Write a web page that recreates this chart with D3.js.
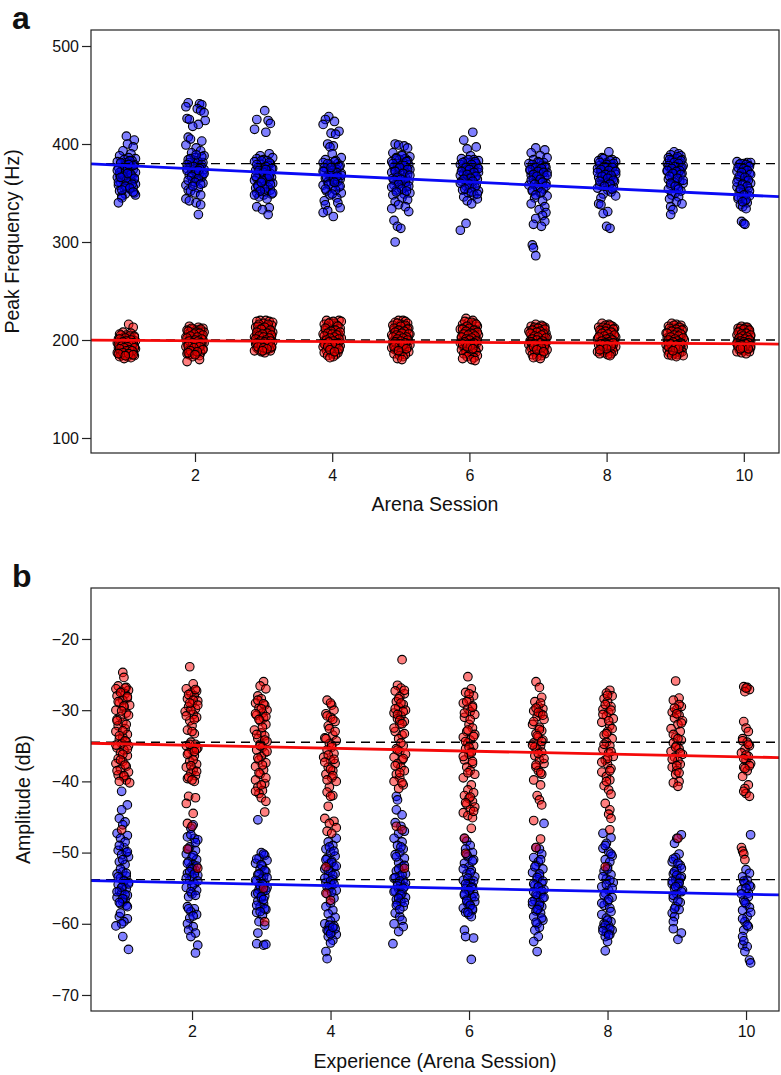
<!DOCTYPE html>
<html><head><meta charset="utf-8">
<script src="https://cdn.jsdelivr.net/npm/d3@7"></script>
<style>body{margin:0;background:#fff}svg{display:block}text{font-family:"Liberation Sans",Arial,Helvetica,sans-serif;fill:#111}</style>
</head><body><svg id="c" width="781" height="1075"></svg>
<script>
// ---------- DATA ----------
const sessions = [1,2,3,4,5,6,7,8,9,10];
const ticksX = [2,4,6,8,10];
const ticksFreq = [100,200,300,400,500];
const ticksAmp = [-20,-30,-40,-50,-60,-70];
// each string: one session; tokens "jitter:value" (jitter in small units of session width)
const freqBlue = [
"0:408 7:404 1:400 6:397 -3:393 4:390 -6:388 2:386 8:385 -2:384 5:383 -8:382 0:381 3:380 -5:380 7:379 -1:378 4:377 -7:376 2:375 6:374 -4:373 0:372 8:371 -2:370 3:369 -6:368 5:367 -8:366 1:365 7:364 -3:363 4:362 -5:361 2:360 8:359 -7:358 0:357 6:356 -2:355 3:354 -6:352 7:350 -1:349 8:348 -4:347 -4:345 -7:340 3:383 -5:381 6:378 -2:376 1:374 -6:371 4:369 -3:367 7:365 0:363 -7:361 5:359 -1:357 3:355 -4:353 6:351 1:370 -8:373 2:379 -5:366",
"-6:442 4:441 6:440 -8:438 2:436 5:434 8:432 -7:426 -5:425 9:424 3:420 -2:418 -6:407 -4:405 6:403 -8:399 1:396 5:393 -3:391 8:388 0:386 -6:384 3:382 7:381 -1:380 -4:378 5:377 2:376 -7:375 8:374 0:372 -3:371 4:370 -5:368 6:366 1:364 -2:362 7:360 -8:358 3:355 -6:353 -4:352 0:350 5:348 -8:344 -5:342 1:340 5:338 3:328 2:383 -5:381 6:379 -1:377 4:375 -7:373 1:371 7:369 -3:367 3:365 -6:363 0:361 5:359 -2:357 -4:385 6:387 1:389 -7:379 3:373 8:370",
"1:434 -6:425 4:424 6:421 -8:415 2:412 5:390 -3:388 8:386 -6:385 0:384 3:383 -8:382 6:380 -2:379 4:378 -5:376 8:375 1:374 -7:373 3:372 -1:371 6:370 -4:369 0:368 7:366 -6:365 2:364 -8:363 5:362 -2:361 8:360 -5:358 1:357 4:356 -7:355 6:353 -3:352 2:351 -6:350 7:349 0:348 -4:346 3:344 -6:336 5:335 -1:333 4:328 -2:383 5:381 -6:379 2:377 7:375 -4:373 0:371 4:369 -7:367 3:365 -1:363 6:359 -5:357 1:354 -3:352 8:350 -8:348 2:374 5:367 -2:361",
"-3:428 -6:425 2:423 -8:420 6:413 -1:411 3:410 -4:400 1:398 -2:397 0:390 8:386 -6:384 3:383 -8:381 5:380 -2:379 7:378 0:377 -5:375 4:374 -7:372 2:371 8:370 -3:369 5:367 -1:366 -6:365 7:364 1:362 -4:361 3:360 -8:358 6:356 0:355 -5:352 8:350 -2:348 4:345 -7:342 5:340 -6:338 7:335 -4:332 -8:330 1:326 2:382 -4:380 6:377 -7:376 0:373 4:371 -2:370 8:368 -5:366 1:364 5:362 -3:359 7:357 -6:354 3:353 0:349 -1:376 -8:372 4:367 2:361",
"-5:400 -2:399 3:398 6:396 -7:391 1:389 8:387 -4:386 4:385 -1:384 6:383 -8:382 2:381 -3:380 7:379 0:378 -6:377 5:376 -2:375 8:374 -5:373 3:372 -8:371 1:370 6:369 -3:368 4:366 -7:365 2:364 7:362 -1:360 -6:358 5:356 0:355 -4:353 8:350 3:349 -7:348 1:345 6:343 -5:341 -2:338 4:336 -8:334 7:331 -6:322 -3:316 0:314 -5:300 1:388 -4:385 5:382 -7:380 3:378 -1:376 6:374 -5:372 2:370 8:368 -3:366 0:364 -6:363 4:361 -2:359 7:357 -8:356 1:354 5:352 -4:351",
"3:412 -5:404 6:397 -2:395 1:388 -7:385 4:384 8:383 -4:382 0:381 6:380 -8:379 2:378 -3:377 7:376 -6:375 4:374 0:373 -2:372 8:371 -5:370 3:369 -8:368 5:367 1:366 -4:365 7:364 -1:363 -7:362 3:360 6:358 -3:357 0:355 -6:353 8:352 -1:350 4:348 -5:346 7:344 -2:342 2:339 -3:319 -8:312 -1:384 5:382 -6:381 2:379 -3:376 8:375 0:374 -7:372 4:371 -2:369 6:367 1:365 -5:364 3:362 -8:360 0:359 5:356 -4:354 2:351 7:349",
"-2:396 6:394 -6:391 2:388 8:386 -4:384 0:382 5:381 -8:380 3:378 -1:377 7:376 -5:375 1:374 -7:373 4:372 8:371 -3:370 2:369 -6:368 6:366 0:365 -4:364 3:362 7:360 -8:358 -1:356 5:354 -5:352 2:350 8:347 -3:345 4:342 -6:339 6:336 1:333 7:330 4:327 -2:324 6:321 -4:318 3:316 -5:297 -4:294 -2:286 1:381 -5:379 6:377 -2:376 3:375 -7:374 0:372 5:371 -4:369 8:368 -1:367 2:364 -6:363 4:361 -3:359 7:357 0:355 -5:353 3:351 -2:348",
"2:392 -4:386 5:384 -7:383 8:382 0:381 -2:380 4:379 -6:378 6:377 1:376 -8:375 3:374 7:373 -3:372 -5:371 2:370 8:369 -1:368 4:367 -7:366 5:365 0:364 -4:363 7:362 -2:361 3:360 -6:358 6:356 -8:355 1:353 4:351 -3:349 8:347 -5:345 -7:339 -5:338 1:331 -3:329 0:316 3:314 -3:385 3:383 -6:381 6:380 0:379 -2:377 5:376 -5:374 2:373 8:372 -8:371 -1:369 4:368 -4:367 1:365 6:363 -6:362 3:359 -2:357 5:354",
"-1:392 3:390 -4:389 5:388 -6:386 1:385 6:384 -3:383 0:382 4:381 -7:380 2:379 7:378 -2:377 -5:376 5:375 0:374 -7:372 3:371 6:370 -3:368 1:366 -6:364 4:362 -1:361 7:360 -4:358 2:356 -6:354 5:352 0:350 -3:348 3:346 -5:344 1:341 6:339 -4:336 -2:333 -4:328 2:387 -5:384 5:383 -1:381 3:380 -6:378 0:377 6:376 -3:375 4:373 -7:373 1:372 -2:370 5:369 -5:367 2:365 7:363 -4:360 0:357 3:354",
"-6:382 3:381 6:381 0:380 -4:379 4:378 -2:376 2:374 -6:372 5:370 0:368 -3:366 3:365 -5:364 1:362 6:360 -2:358 -6:356 4:355 0:353 -4:351 2:349 5:347 -2:345 -5:344 1:342 3:340 -3:338 -1:336 2:334 -2:321 0:319 1:318 -3:380 2:379 5:377 -5:376 0:375 3:373 -2:371 6:369 -4:367 1:366 4:363 -6:361 -1:359 3:357 -3:354 5:352 0:348 -5:346 2:343 -1:341"
];
const freqRed = [
"2:216 6:213 -3:208 4:207 -6:206 0:205 7:204 -2:203 3:202 -7:201 5:201 -4:200 1:200 8:199 -1:199 -5:198 4:198 -8:197 2:197 6:196 -3:196 0:195 -6:195 7:194 3:194 -2:193 5:193 -7:192 1:192 -4:191 8:191 -1:190 4:190 -6:189 2:189 6:188 -3:188 0:187 -8:187 5:186 -5:186 3:185 -2:185 7:184 -4:184 1:183 -6:183 4:182 -2:181 -5:205 3:204 7:203 -1:202 -6:201 4:200 0:199 -3:198 6:197 -7:196 2:196 5:195 -4:194 1:193 -2:192 7:192 -6:191 3:190 0:189 5:189 -3:187 -7:186 2:186 6:185 -1:184",
"-5:214 3:213 7:212 -2:211 -7:210 1:210 5:209 -4:208 8:208 0:207 -6:206 4:206 2:205 -3:204 6:204 -8:203 0:203 -1:202 5:202 3:201 -5:200 7:200 -2:199 1:199 -7:198 4:198 8:197 -4:197 0:196 6:196 -6:195 2:195 -2:194 5:193 -8:193 3:192 -4:191 7:191 0:190 -6:189 2:189 -3:188 5:187 -7:186 1:186 -5:185 4:184 -2:183 -7:178 4:180 -3:212 5:211 -6:209 1:208 4:207 -1:206 7:205 -4:204 2:203 -7:202 6:201 0:200 3:199 -5:199 -2:197 5:197 1:196 -6:194 4:193 -1:192 7:190 -4:189 2:188 -6:187 0:185",
"-3:220 2:220 -6:219 5:219 8:218 0:217 -4:216 7:215 3:214 -7:213 -1:212 5:211 -5:210 2:209 8:208 -3:207 0:206 6:206 -6:205 3:205 -2:204 7:204 -8:203 1:203 4:202 -4:202 0:201 6:200 -6:200 2:199 -2:198 8:198 -5:197 4:197 1:196 -7:196 6:195 -3:195 3:194 -1:193 7:192 -6:192 0:191 5:191 -4:190 2:190 -8:189 6:189 -2:188 1:187 4:216 -5:214 1:213 -2:211 6:210 -6:208 3:207 -1:206 7:205 -4:204 0:203 5:202 -7:201 2:200 -3:199 6:199 1:198 -6:197 4:196 -2:194 7:193 -5:193 0:192 3:191 -1:189",
"-5:220 6:220 8:219 -2:218 2:217 -7:216 4:215 -4:213 7:212 0:211 -6:210 3:209 -1:208 5:207 -8:206 1:205 6:205 -3:204 3:203 -5:202 8:202 0:201 -2:200 4:200 -7:199 2:199 6:198 -4:198 0:197 -1:196 5:196 -6:195 3:195 7:194 -3:194 1:193 -8:193 4:192 -2:191 6:190 -5:189 2:189 -1:188 -7:187 5:187 0:186 3:185 -4:184 1:183 -2:182 1:219 -3:217 5:214 -6:212 3:210 -1:209 7:208 -4:207 0:206 4:205 -7:204 2:203 -2:202 6:201 -5:200 1:199 -3:198 5:197 -7:196 3:196 0:195 -4:193 6:191 -2:190 2:188",
"-2:220 2:220 4:219 -5:218 6:217 0:216 -7:215 3:214 -3:213 7:212 1:211 -6:210 5:209 -1:208 -4:207 8:206 2:205 -8:205 4:204 -2:203 0:202 6:202 -5:201 3:200 -3:200 7:199 1:199 -7:198 5:198 -1:197 -4:196 2:196 8:195 -6:195 0:194 4:194 -2:193 6:192 -8:192 1:191 -5:190 3:190 -3:189 7:188 0:187 -6:186 4:185 -1:184 2:183 -3:181 1:180 -3:217 4:215 0:214 -6:212 6:211 -2:210 3:209 -5:208 1:207 7:206 -4:205 -1:204 5:203 -7:203 2:202 -3:201 6:200 0:199 -5:198 4:197 -1:196 2:195 -6:193 5:191 -2:189",
"-3:222 3:220 -1:218 5:217 -6:216 1:215 7:214 -4:213 3:212 -8:211 6:210 0:209 -2:208 4:207 -6:206 8:205 2:205 -4:204 0:203 5:203 -7:202 3:201 -2:200 7:200 1:199 -5:199 5:198 -1:197 -8:197 3:196 6:196 -3:195 0:195 -6:194 4:194 2:193 -4:192 8:192 -1:191 5:190 -7:190 1:189 -3:188 6:188 3:187 -5:186 0:185 7:184 -2:183 4:182 -6:181 2:180 5:179 -4:219 2:218 6:216 -2:214 0:212 -6:211 4:210 -3:209 7:208 1:207 -5:206 3:206 -1:205 5:204 -7:203 2:202 -3:201 0:200 6:199 -4:198 4:197 -6:196 1:194 -2:193 3:191",
"-2:216 3:215 -6:214 6:213 0:212 -4:211 4:210 -8:209 2:208 7:207 -3:206 -6:205 1:205 5:204 -1:203 8:203 -5:202 3:202 -3:201 0:200 6:200 -7:199 2:199 -2:198 4:198 -5:197 7:197 1:196 -1:196 -8:195 5:195 3:194 -4:194 0:193 6:193 -6:192 2:192 -2:191 8:190 -7:189 4:189 -3:188 1:187 6:186 -5:185 3:184 -1:183 -4:182 2:181 4:214 -3:213 0:212 6:211 -5:210 2:209 -1:208 -7:207 5:206 3:205 -3:204 0:203 7:202 -5:201 -1:200 4:199 -6:198 2:197 -3:196 6:195 0:194 -4:193 3:192 -1:190 5:188",
"-4:217 2:216 -1:215 5:214 -7:213 7:212 0:211 3:210 -5:209 -2:208 6:207 1:206 -6:205 4:204 -3:203 8:203 0:202 -8:201 2:201 5:200 -4:200 -1:199 7:199 3:198 -6:198 0:197 4:197 -2:196 -7:195 6:195 1:194 -4:194 3:193 8:193 -1:192 -5:191 5:191 0:190 -3:189 2:189 -8:188 6:188 -2:187 4:186 -6:186 1:185 3:184 3:215 -3:213 0:212 6:211 -6:210 -1:209 4:208 -4:207 1:206 7:205 -2:204 -7:203 3:202 0:201 5:200 -4:199 2:198 -1:197 6:197 -5:196 1:195 4:194 -3:193 0:191 -6:190",
"-3:217 1:216 5:215 -6:214 3:213 -1:212 7:211 -4:210 0:209 4:208 -8:207 2:206 -2:205 6:205 -5:204 0:203 3:202 -7:202 5:201 -1:200 8:200 -4:199 2:199 -6:198 4:198 0:197 -2:196 6:196 -8:195 1:195 -3:194 3:194 7:193 -5:192 -1:192 5:191 -7:190 2:190 -3:189 0:188 6:188 -5:187 4:187 -1:186 -6:185 2:185 7:184 -3:184 1:183 -1:215 4:213 -5:212 1:211 6:210 -3:209 2:208 -7:207 5:206 -1:205 3:204 -4:203 7:202 0:201 -6:200 2:199 -2:198 5:197 -4:196 1:195 4:194 -6:193 0:192 3:191 -2:189",
"-2:214 2:213 -5:212 4:211 0:210 -4:209 5:208 -1:207 3:206 -6:205 1:204 6:204 -3:203 -1:202 4:201 -5:200 2:200 0:199 6:199 -4:198 3:198 -2:197 5:196 -6:196 1:195 -3:195 4:194 0:193 -5:193 2:192 6:192 -1:191 -4:190 3:190 0:189 -6:188 5:188 -2:187 2:186 3:213 -3:212 0:211 5:210 -5:208 2:207 -2:206 6:205 -1:204 3:203 -4:202 1:201 5:200 -3:199 0:198 -6:197 4:197 2:196 -2:195 6:194 -5:194 1:193 -1:192 4:191 -3:191"
];
const ampBlue = [
"-1:-41.4 4:-43.3 -1:-44.0 -3:-45.2 2:-45.7 0:-46.1 -5:-47.3 4:-47.6 -2:-48.0 1:-49.3 -4:-49.7 3:-50.0 -1:-50.3 5:-50.6 -3:-51.3 2:-51.7 0:-52.7 -5:-53.0 3:-53.3 -2:-53.6 1:-53.9 5:-54.2 -4:-54.5 0:-54.8 3:-55.1 -3:-55.4 -1:-55.7 4:-56.0 -5:-56.3 2:-56.6 0:-56.9 -2:-57.2 3:-57.4 -3:-59.0 4:-59.3 1:-59.7 -1:-60.0 -6:-60.3 0:-61.8 5:-63.6 2:-48.5 -3:-49.0 4:-49.9 0:-51.0 -2:-52.3 3:-52.9 -4:-53.4 1:-54.0 5:-54.4 -1:-54.9 -5:-55.5 2:-55.9 0:-56.5 -3:-57.0 4:-57.6 -2:-58.5",
"1:-46.1 -1:-46.6 -4:-47.8 2:-48.0 5:-48.2 -2:-49.2 3:-49.7 -5:-50.2 0:-50.7 4:-51.0 -3:-51.3 1:-51.7 -1:-52.1 3:-52.5 -4:-52.9 5:-53.2 0:-53.4 -2:-53.9 2:-54.4 -5:-54.9 4:-55.3 0:-55.8 -3:-56.2 -4:-57.6 2:-57.9 -1:-58.3 4:-58.7 -2:-59.2 -4:-60.0 1:-60.4 -3:-60.9 3:-61.3 -1:-61.8 5:-63.0 3:-64.1 -1:-47.5 3:-48.6 -3:-49.5 1:-50.4 -4:-51.5 4:-51.9 0:-52.3 -2:-52.7 2:-53.0 -5:-53.6 5:-54.0 0:-54.7 -1:-55.5 3:-56.0 -3:-57.9 1:-58.9",
"-3:-45.4 0:-50.0 3:-50.4 -2:-50.8 5:-51.1 -5:-51.5 1:-51.9 -1:-52.3 4:-52.7 -3:-53.1 2:-53.4 0:-53.7 -4:-54.0 3:-54.3 -1:-54.6 5:-54.9 -2:-55.2 1:-55.5 -5:-55.8 3:-56.1 0:-56.4 -3:-56.8 2:-57.2 -1:-57.6 4:-58.0 -4:-58.4 1:-58.8 -2:-59.7 3:-60.2 -3:-61.3 -4:-62.8 2:-63.0 4:-62.9 2:-50.2 -4:-50.9 0:-51.7 3:-52.5 -2:-53.0 5:-53.5 -5:-53.9 1:-54.4 -1:-54.8 4:-55.3 -3:-55.7 0:-56.2 2:-56.6 -4:-57.4 3:-57.9 -1:-58.3",
"5:-48.0 -2:-48.5 2:-49.0 -4:-49.5 0:-50.0 4:-50.5 -3:-50.8 1:-51.2 -1:-51.6 3:-52.0 -5:-52.3 0:-52.7 4:-53.0 -2:-53.4 2:-53.8 -4:-54.2 1:-54.6 -1:-55.0 5:-55.3 -3:-55.8 3:-56.4 0:-57.1 -4:-57.6 2:-58.1 -2:-58.6 4:-59.1 0:-59.6 -5:-60.0 3:-60.3 -1:-60.6 -3:-60.9 1:-61.2 5:-61.5 -2:-61.8 2:-62.3 0:-62.7 -4:-63.9 -3:-64.9 -1:-49.2 3:-49.8 -4:-51.0 1:-51.4 5:-51.9 -2:-52.5 2:-53.2 -5:-53.6 0:-54.0 3:-54.4 -3:-54.8 1:-55.6 -1:-60.2 4:-60.7 -2:-61.0 0:-61.4 2:-60.5",
"-3:-42.1 -2:-42.6 -3:-44.0 2:-44.7 -4:-45.8 1:-46.3 4:-47.0 -1:-47.3 -5:-48.0 2:-48.5 -2:-49.0 3:-49.5 0:-50.0 -4:-50.3 4:-50.8 -1:-51.4 2:-52.0 -3:-52.6 5:-53.0 0:-53.3 -5:-53.6 3:-53.9 -2:-54.2 1:-54.5 4:-54.8 -1:-55.1 -4:-55.4 2:-55.7 0:-56.0 5:-56.3 -3:-56.6 1:-56.9 -2:-57.2 3:-57.6 -4:-58.5 0:-59.0 2:-59.5 -5:-60.0 3:-60.4 -1:-61.1 -6:-62.8 1:-49.2 -3:-50.6 4:-51.8 -1:-52.3 2:-53.1 -4:-53.5 0:-54.0 5:-54.3 -2:-54.7 3:-55.0 -5:-55.5 1:-55.9 -1:-56.4 4:-57.0 -3:-57.4 0:-58.0",
"-4:-48.0 -2:-48.4 1:-49.0 -3:-49.5 3:-50.0 -1:-50.6 4:-51.0 -4:-51.5 0:-52.0 2:-52.5 -2:-53.0 5:-53.4 -5:-53.9 1:-54.2 -1:-54.5 3:-54.8 -3:-55.1 0:-55.4 4:-55.7 -4:-56.0 2:-56.3 -2:-56.6 5:-56.9 -1:-57.2 1:-57.5 -5:-57.8 3:-58.1 -3:-58.4 0:-58.7 2:-59.0 -4:-60.9 -3:-61.8 4:-62.0 2:-65.0 -2:-50.3 3:-51.2 -5:-52.3 1:-52.8 -1:-53.6 4:-54.0 -3:-54.4 2:-54.9 0:-55.3 -4:-55.8 5:-56.2 -2:-56.8 1:-57.4 3:-57.9 -1:-58.4",
"5:-45.9 -2:-49.3 1:-49.5 3:-50.2 -4:-50.7 0:-51.3 -2:-51.8 4:-52.3 -5:-52.8 1:-53.3 -1:-53.8 3:-54.3 -3:-54.6 0:-54.9 5:-55.2 -4:-55.5 2:-55.8 -1:-56.1 4:-56.4 -3:-56.7 1:-57.0 -5:-57.3 3:-57.6 0:-57.9 -2:-58.2 2:-58.5 -4:-59.0 4:-59.5 -1:-60.0 1:-60.5 -3:-60.9 0:-61.8 -4:-62.5 -1:-63.9 2:-51.0 -3:-52.0 1:-53.0 -1:-53.5 4:-54.0 -4:-54.4 0:-54.8 3:-55.4 -2:-55.9 5:-56.3 -5:-56.9 1:-57.4 -1:-58.0 3:-59.2 -2:-59.8",
"-4:-47.3 3:-47.9 -1:-48.7 -4:-49.4 1:-49.9 4:-50.5 -2:-51.0 2:-51.3 0:-52.0 -3:-52.6 3:-53.1 -1:-53.7 5:-54.2 -5:-54.8 1:-55.3 -2:-55.7 4:-56.3 0:-56.9 -3:-57.4 2:-57.8 -5:-58.7 -1:-59.2 3:-59.7 -3:-60.0 1:-60.3 -4:-60.6 4:-60.9 -1:-61.2 2:-61.5 -2:-61.8 0:-62.5 -2:-63.8 -2:-49.0 3:-50.2 0:-52.3 -4:-53.4 2:-53.9 -1:-54.5 4:-55.0 -3:-56.0 1:-56.6 -5:-57.1 3:-58.3 0:-59.5 -2:-60.2 2:-60.7 -4:-61.0 1:-61.6",
"4:-47.5 0:-48.0 -2:-48.7 2:-50.2 -1:-50.7 -4:-51.3 3:-51.8 0:-52.4 -3:-53.0 4:-53.4 -1:-53.8 2:-54.1 -4:-54.4 1:-54.7 -2:-55.0 5:-55.3 0:-55.8 -3:-56.4 3:-57.0 -1:-57.6 2:-58.0 -4:-58.5 -2:-59.0 -3:-59.7 -3:-60.7 4:-61.3 1:-62.2 -3:-50.9 1:-51.5 4:-52.2 -2:-52.7 0:-53.2 3:-53.6 -4:-54.0 2:-54.3 -1:-54.8 4:-55.5 -3:-56.0 1:-56.8 -2:-57.9",
"4:-47.5 0:-52.4 3:-52.9 -3:-53.4 1:-53.9 -1:-54.3 4:-54.8 -4:-55.2 2:-55.7 -2:-56.7 0:-57.2 3:-57.7 -3:-58.1 1:-59.0 -1:-59.7 2:-60.4 -2:-60.9 -3:-61.8 -3:-63.0 1:-63.2 -1:-63.9 3:-65.1 4:-65.5 -2:-54.0 3:-54.6 0:-55.0 -4:-55.8 2:-56.2 -1:-57.0 4:-58.4 -3:-59.3 1:-60.2 -2:-62.4"
];
const ampRed = [
"0:-24.7 1:-25.4 -4:-26.6 3:-26.8 -6:-27.0 5:-27.2 -1:-27.4 2:-27.7 -5:-28.0 4:-28.3 0:-28.6 -3:-29.0 6:-29.3 1:-29.6 -6:-30.0 3:-30.4 -2:-30.9 -5:-31.3 0:-31.7 -4:-32.2 2:-32.6 -6:-33.0 4:-33.4 0:-33.8 -3:-34.1 3:-34.4 -1:-34.7 5:-35.0 -5:-35.3 1:-35.6 -2:-36.0 4:-36.4 -4:-36.8 0:-37.2 -6:-37.5 3:-37.9 -2:-38.3 5:-38.7 -4:-39.1 1:-39.4 3:-39.8 6:-40.2 -1:-46.8 2:-26.9 -2:-27.5 4:-28.1 -4:-28.8 1:-29.4 -1:-30.1 5:-30.7 -5:-31.5 3:-32.0 0:-32.9 -3:-33.6 2:-34.3 -6:-34.9 4:-35.5 0:-36.2 -2:-37.0 2:-37.7 -5:-38.5 1:-39.2 -3:-40.0",
"-2:-23.9 1:-26.3 -5:-27.0 4:-27.3 -1:-27.6 2:-28.0 -4:-28.4 5:-28.7 0:-29.1 -3:-29.5 3:-29.8 -6:-30.2 1:-30.6 4:-31.0 -2:-31.5 0:-32.2 -4:-32.8 2:-33.3 -1:-34.5 3:-34.8 -5:-35.0 5:-35.3 0:-35.6 -3:-36.0 2:-36.4 -2:-37.2 4:-37.6 -5:-38.0 1:-38.4 -1:-38.8 3:-39.2 -4:-39.6 2:-40.0 -3:-42.1 3:-42.3 -5:-43.1 1:-44.5 -4:-45.9 0:-46.3 -4:-49.5 5:-52.2 3:-27.1 -3:-27.8 1:-28.6 5:-29.3 -1:-30.0 -5:-30.8 2:-31.3 0:-33.0 -2:-34.8 4:-35.5 -4:-36.2 1:-37.0 -1:-37.8 4:-38.6 -3:-39.4 0:-39.8 2:-35.8 -2:-29.0",
"2:-26.0 -1:-26.6 4:-27.0 -3:-28.0 0:-28.4 -5:-29.0 3:-29.3 -2:-29.7 5:-30.0 1:-30.4 -4:-30.7 2:-31.1 -1:-31.5 4:-32.0 -6:-32.8 0:-33.2 3:-33.6 -3:-34.0 5:-34.4 -1:-34.8 1:-35.2 -4:-35.6 3:-36.0 0:-36.5 -2:-37.0 4:-37.4 -5:-37.9 2:-38.4 -1:-39.0 -5:-39.8 3:-40.3 -3:-40.8 1:-41.3 -2:-41.7 -5:-41.4 0:-42.3 4:-42.8 3:-44.3 2:-55.0 3:-59.7 -3:-28.6 2:-29.1 0:-29.8 -5:-30.5 4:-30.9 -2:-31.3 1:-32.4 -4:-33.4 3:-34.2 -1:-35.0 5:-35.8 -3:-36.7 1:-37.7 -2:-38.8 4:-39.5 0:-40.5",
"-3:-28.6 1:-29.3 3:-30.0 -4:-30.5 0:-31.0 4:-31.6 -2:-32.2 2:-33.5 -5:-33.9 5:-34.3 -1:-34.7 1:-35.2 -3:-35.6 3:-36.1 -6:-36.6 0:-37.0 4:-37.5 -2:-38.0 2:-38.5 -4:-39.0 1:-39.5 5:-40.0 -1:-40.8 -3:-41.5 2:-42.0 0:-42.1 -2:-43.5 -5:-45.2 3:-45.6 -1:-45.9 5:-46.5 -3:-47.0 1:-47.3 -4:-52.0 -4:-55.7 0:-56.7 0:-29.0 -3:-30.8 2:-31.3 -1:-32.6 4:-33.0 -4:-34.0 1:-34.9 -2:-36.3 3:-36.9 -5:-37.3 0:-38.3 2:-39.2 -3:-39.8",
"2:-22.9 -2:-26.5 1:-26.9 -4:-27.3 4:-27.7 0:-28.1 -3:-28.8 3:-29.2 -1:-29.6 5:-30.0 -5:-30.4 1:-30.8 -2:-31.2 4:-31.6 0:-32.0 -4:-33.0 2:-33.5 -1:-34.0 3:-35.0 -3:-35.4 0:-35.8 5:-36.2 -5:-36.6 2:-37.0 -2:-37.5 1:-38.0 4:-38.5 -3:-39.0 0:-39.5 -5:-40.0 3:-40.5 -1:-41.0 -3:-46.3 2:-46.8 4:-52.2 4:-27.2 -1:-28.4 1:-29.0 -4:-29.8 3:-30.2 -2:-30.6 0:-31.4 2:-31.9 -5:-32.5 4:-33.3 1:-34.6 -2:-35.6 3:-36.8 -4:-37.8 0:-38.8 2:-40.2",
"-1:-25.3 2:-27.0 -3:-27.5 4:-28.0 0:-28.5 -5:-29.0 3:-29.4 -1:-29.8 1:-30.2 5:-30.6 -4:-31.0 0:-32.0 3:-32.5 -2:-33.0 5:-33.4 -5:-33.8 1:-34.2 -1:-34.6 4:-35.0 -3:-35.4 2:-35.8 0:-36.2 -4:-37.0 3:-37.5 -2:-38.0 1:-38.5 5:-39.0 -5:-39.5 2:-40.5 -1:-41.2 4:-41.6 -4:-42.0 0:-42.4 3:-42.8 -2:-43.2 5:-43.6 1:-44.0 -5:-44.4 -1:-44.8 3:-45.1 2:-46.6 -4:-48.0 -3:-50.1 0:-27.7 -2:-28.8 3:-29.6 -4:-30.4 1:-31.3 -1:-32.8 4:-33.7 -3:-34.4 0:-35.2 2:-36.0 -5:-36.5 3:-37.2 -1:-38.8 1:-42.2 -3:-43.0 4:-44.2",
"-2:-26.0 1:-26.8 3:-28.2 -3:-28.8 0:-29.5 4:-29.8 -4:-30.1 2:-30.5 -1:-30.9 5:-31.3 -5:-32.0 1:-32.4 3:-32.9 -2:-33.3 0:-33.8 4:-34.2 -4:-34.6 2:-35.0 -1:-35.5 3:-35.9 -3:-36.4 1:-37.0 5:-37.5 -2:-38.0 0:-38.5 3:-39.0 -4:-39.8 2:-40.5 -1:-42.0 1:-42.6 3:-43.3 -4:-45.5 2:-48.1 -2:-49.3 2:-29.0 -2:-29.7 0:-30.3 4:-30.7 -4:-31.6 1:-32.7 -1:-33.6 3:-34.4 -3:-35.2 0:-36.1 5:-36.8 -2:-37.7 2:-38.8 -5:-34.9",
"2:-27.2 -1:-27.6 4:-28.0 -3:-28.4 0:-28.8 3:-29.5 -4:-29.9 1:-30.3 -1:-30.8 5:-31.2 -5:-31.7 2:-32.2 0:-33.0 -3:-33.5 4:-34.0 -1:-34.5 2:-35.0 -4:-35.5 1:-36.0 5:-36.5 -2:-37.0 0:-37.6 3:-38.2 -5:-38.7 -1:-39.3 2:-39.8 -3:-40.6 1:-41.2 3:-41.8 -2:-43.1 2:-44.0 1:-44.6 3:-45.2 2:-46.8 -2:-52.0 0:-27.9 -2:-29.2 3:-30.0 -4:-30.6 1:-31.5 4:-32.6 -1:-33.3 -3:-34.8 3:-35.8 0:-36.8 -5:-37.3 2:-38.5 -1:-40.0",
"-1:-25.9 2:-28.3 -3:-28.6 4:-29.5 0:-29.9 -4:-30.3 2:-30.7 -2:-31.1 5:-31.5 1:-32.0 -5:-32.6 3:-33.0 -1:-33.8 4:-34.2 -3:-34.6 0:-35.0 2:-35.4 -5:-35.8 5:-36.2 -2:-36.6 1:-37.1 3:-37.6 -4:-38.0 0:-38.5 -1:-39.0 2:-40.0 -3:-40.2 1:-40.7 1:-48.0 2:-29.2 -2:-29.7 0:-30.5 4:-31.8 -3:-33.4 1:-34.0 -1:-35.2 3:-36.0 -4:-36.9 0:-37.8 2:-38.8",
"-2:-26.7 1:-26.8 3:-27.1 -1:-27.4 -2:-31.6 0:-32.5 2:-33.0 -3:-34.0 1:-34.5 3:-35.0 -1:-35.5 -4:-36.0 2:-36.5 0:-37.0 4:-37.5 -2:-38.0 1:-38.5 -3:-39.3 2:-40.5 -1:-41.0 0:-41.7 -2:-41.4 3:-42.1 -4:-49.3 -3:-49.8 -2:-50.2 -1:-51.0 0:-26.9 -3:-34.3 2:-34.8 0:-36.3 -2:-36.8 3:-37.8 -1:-38.2"
];
// reference (dashed) levels and fitted lines [value at session 1, slope per session]
const freqRef = {blue: 380, red: 200};
const freqFit = {blue: [377.9, -3.33], red: [199.6, -0.39]};
const ampRef  = {red: -34.5, blue: -53.8};
const ampFit  = {red: [-34.74, -0.203], blue: [-54.04, -0.202]};

// ---------- DRAW ----------
const svg = d3.select("#c");
const COLORS = {
  blue: {fill: "rgba(0,0,255,0.5)", line: "#0a0af5"},
  red:  {fill: "rgba(255,0,0,0.5)", line: "#f50a0a"}
};
const JIT = 0.0165;

function parse(strs){
  const out = [];
  strs.forEach((s, i) => {
    s.trim().split(/\s+/).forEach(t => {
      const [j, v] = t.split(":").map(Number);
      out.push({x: sessions[i] + j * JIT, y: v});
    });
  });
  return out;
}

function panel(cfg){
  const x = d3.scaleLinear().domain(cfg.xdom).range([cfg.left, cfg.right]);
  const y = d3.scaleLinear().domain(cfg.ydom).range([cfg.bottom, cfg.top]);
  const g = svg.append("g");

  cfg.groups.forEach(gr => {
    g.append("g").selectAll("circle").data(parse(gr.data)).join("circle")
      .attr("cx", d => x(d.x)).attr("cy", d => y(d.y)).attr("r", 4.3)
      .attr("fill", COLORS[gr.color].fill).attr("stroke", "#000").attr("stroke-width", 1.1);
  });
  cfg.groups.forEach(gr => {
    g.append("line").attr("x1", cfg.left).attr("x2", cfg.right)
      .attr("y1", y(gr.ref)).attr("y2", y(gr.ref))
      .attr("stroke", "#000").attr("stroke-width", 1.4).attr("stroke-dasharray", "9,6");
  });
  cfg.groups.forEach(gr => {
    const f = v => gr.fit[0] + gr.fit[1] * (v - 1);
    g.append("line").attr("x1", x(cfg.xdom[0])).attr("x2", x(cfg.xdom[1]))
      .attr("y1", y(f(cfg.xdom[0]))).attr("y2", y(f(cfg.xdom[1])))
      .attr("stroke", COLORS[gr.color].line).attr("stroke-width", 2.8);
  });
  g.append("rect").attr("x", cfg.left).attr("y", cfg.top)
    .attr("width", cfg.right - cfg.left).attr("height", cfg.bottom - cfg.top)
    .attr("fill", "none").attr("stroke", "#222").attr("stroke-width", 1.2);
  const ax = g.append("g").attr("transform", `translate(0,${cfg.bottom})`)
    .call(d3.axisBottom(x).tickValues(ticksX).tickSize(9).tickPadding(cfg.xpad));
  const ay = g.append("g").attr("transform", `translate(${cfg.left},0)`)
    .call(d3.axisLeft(y).tickValues(cfg.yticks).tickSize(9).tickPadding(3));
  [ax, ay].forEach(a => {
    a.select(".domain").remove();
    a.selectAll(".tick line").attr("stroke", "#222").attr("stroke-width", 1.2);
    a.selectAll(".tick text").attr("font-size", 16).attr("fill", "#111")
      .attr("font-family", '"Liberation Sans", Arial, sans-serif');
  });
  g.append("text").attr("x", (cfg.left + cfg.right) / 2).attr("y", cfg.xtitleY)
    .attr("text-anchor", "middle").attr("font-size", 19.5).text(cfg.xtitle);
  g.append("text").attr("transform", `translate(${cfg.ytitleX},${(cfg.top + cfg.bottom) / 2}) rotate(-90)`)
    .attr("text-anchor", "middle").attr("font-size", 19.5).text(cfg.ytitle);
  g.append("text").attr("x", 12).attr("y", cfg.letterY).attr("font-size", 32)
    .attr("font-weight", "bold").text(cfg.letter);
}

panel({
  left: 91, right: 779, top: 30, bottom: 453,
  xdom: [0.484, 10.513], ydom: [84.69, 516.33], yticks: ticksFreq, xpad: 8,
  xtitle: "Arena Session", xtitleY: 511, ytitle: "Peak Frequency (Hz)", ytitleX: 19,
  letter: "a", letterY: 29,
  groups: [
    {color: "blue", data: freqBlue, ref: freqRef.blue, fit: freqFit.blue},
    {color: "red", data: freqRed, ref: freqRef.red, fit: freqFit.red}
  ]
});
panel({
  left: 91, right: 779, top: 588, bottom: 1011,
  xdom: [0.541, 10.476], ydom: [-72.25, -12.84], yticks: ticksAmp, xpad: 6,
  xtitle: "Experience (Arena Session)", xtitleY: 1068, ytitle: "Amplitude (dB)", ytitleX: 30,
  letter: "b", letterY: 587,
  groups: [
    {color: "blue", data: ampBlue, ref: ampRef.blue, fit: ampFit.blue},
    {color: "red", data: ampRed, ref: ampRef.red, fit: ampFit.red}
  ]
});
</script></body></html>
